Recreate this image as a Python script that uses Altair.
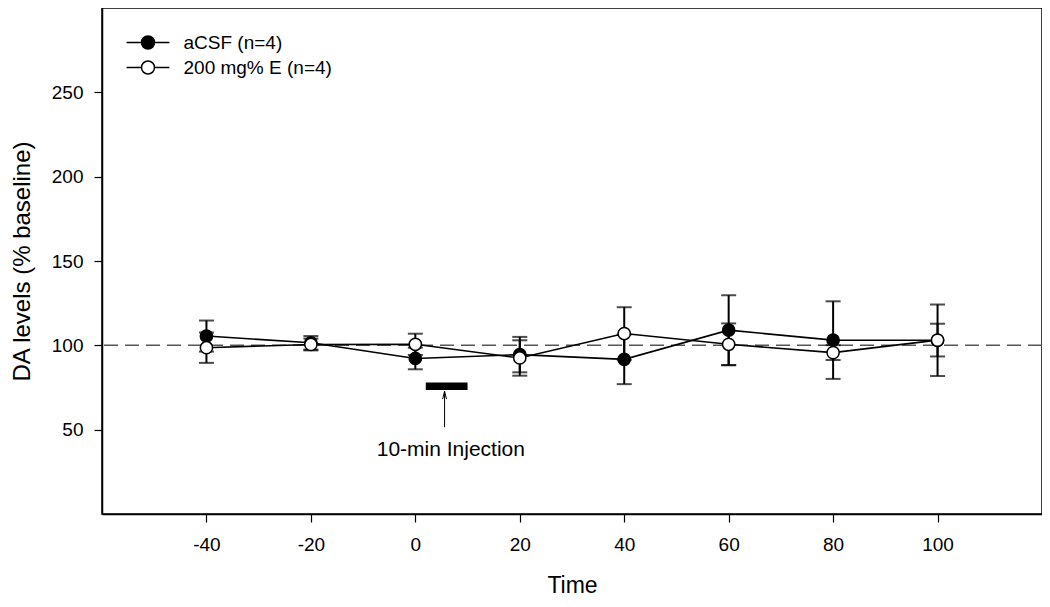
import altair as alt
import pandas as pd

# ---- data ----
time = [-40, -20, 0, 20, 40, 60, 80, 100]
series_names = ["aCSF (n=4)", "200 mg% E (n=4)"]
acsf_mean = [105.5, 101.5, 92.2, 94.5, 91.7, 109.0, 103.1, 103.0]
acsf_sem = [9.2, 4.0, 6.4, 10.5, 14.7, 20.7, 23.0, 21.2]
e_mean = [98.6, 100.5, 100.6, 92.5, 107.0, 100.6, 95.7, 103.1]
e_sem = [9.0, 3.5, 6.3, 10.5, 15.6, 12.4, 4.4, 9.7]

x_ticks = [-40, -20, 0, 20, 40, 60, 80, 100]
y_ticks = [50, 100, 150, 200, 250]
baseline = [100]

# injection annotation
inj_start = [2]
inj_end = [10]
inj_lo = [73.5]
inj_hi = [78]
arrow_x = [5.6]
arrow_tail = [51.5]
arrow_tip = [72.8]
label_x = [6.8]
label_y = [38.0]
label_text = ["10-min Injection"]

rows = []
for name, means, sems in [(series_names[0], acsf_mean, acsf_sem),
                          (series_names[1], e_mean, e_sem)]:
    for t, m, s in zip(time, means, sems):
        rows.append({"series": name, "time": t, "mean": m,
                     "lo": m - s, "hi": m + s})
df = pd.DataFrame(rows)

xscale = alt.Scale(domain=[-60, 120], nice=False, zero=False)
yscale = alt.Scale(domain=[0, 300], nice=False, zero=False)

X = alt.X("time:Q", scale=xscale,
          axis=alt.Axis(values=x_ticks, title="Time", grid=False,
                        labelExpr="'' + datum.value",
                        labelFontSize=19, titleFontSize=23,
                        labelPadding=13, titlePadding=20))
y_axis = alt.Axis(values=y_ticks, title="DA levels (% baseline)", grid=False,
                  labelFontSize=19, titleFontSize=24,
                  labelPadding=11, titlePadding=17)
Y = alt.Y("mean:Q", scale=yscale, axis=y_axis)

base = alt.Chart(df)

ref_line = alt.Chart(pd.DataFrame({"b": baseline})).mark_rule(
    color="#555555", strokeDash=[14, 7], strokeWidth=1.5
).encode(y=alt.Y("b:Q", scale=yscale, axis=y_axis))

err = base.mark_errorbar(
    ticks=alt.TickConfig(size=15, thickness=2, color="black"),
    rule=alt.LineConfig(strokeWidth=2, color="black"),
).encode(
    x=X,
    y=alt.Y("lo:Q", scale=yscale, axis=y_axis),
    y2="hi:Q",
    detail="series:N",
)

lines = base.mark_line(color="black", strokeWidth=1.6).encode(
    x=X, y=Y, detail="series:N"
)

legend_path = ("M-3.3,0H-1M1,0H3.3"
               "M-1,0A1,1,0,1,0,1,0A1,1,0,1,0,-1,0Z")

points = base.mark_point(
    shape="circle", filled=True, size=150, stroke="black", strokeWidth=1.5,
    opacity=1, fillOpacity=1
).encode(
    x=X, y=Y,
    fill=alt.Fill(
        "series:N",
        scale=alt.Scale(domain=series_names, range=["black", "white"]),
        sort=series_names,
        legend=alt.Legend(
            title=None, orient="none", legendX=36.5, legendY=25,
            symbolType=legend_path, symbolSize=169,
            symbolStrokeColor="black", symbolStrokeWidth=1.5,
            labelFontSize=19, labelFont="Liberation Sans", labelColor="black",
            labelOffset=26, rowPadding=5, padding=0, symbolOpacity=1,
        ),
    ),
)

inj_df = pd.DataFrame({"x1": inj_start, "x2": inj_end, "lo": inj_lo, "hi": inj_hi})
inj_bar = alt.Chart(inj_df).mark_rect(color="black").encode(
    x=alt.X("x1:Q", scale=xscale), x2="x2:Q",
    y=alt.Y("lo:Q", scale=yscale), y2="hi:Q",
)

arr_df = pd.DataFrame({"x": arrow_x, "tail": arrow_tail, "tip": arrow_tip})
arrow_shaft = alt.Chart(arr_df).mark_rule(color="black", strokeWidth=1).encode(
    x=alt.X("x:Q", scale=xscale),
    y=alt.Y("tail:Q", scale=yscale), y2="tip:Q",
)
arrow_head = alt.Chart(arr_df).mark_point(
    shape="M-0.5,1L0,-1L0.5,1", filled=False, stroke="black", strokeWidth=1,
    size=60, yOffset=4, opacity=1
).encode(
    x=alt.X("x:Q", scale=xscale),
    y=alt.Y("tip:Q", scale=yscale),
)

txt_df = pd.DataFrame({"x": label_x, "y": label_y, "t": label_text})
txt = alt.Chart(txt_df).mark_text(
    fontSize=21, font="Liberation Sans", color="black", align="center",
    baseline="middle"
).encode(
    x=alt.X("x:Q", scale=xscale),
    y=alt.Y("y:Q", scale=yscale),
    text="t:N",
)

chart = alt.layer(
    ref_line, err, lines, points, inj_bar, arrow_shaft, arrow_head, txt
).properties(
    width=940, height=506,
    autosize=alt.AutoSizeParams(type="none"),
    padding={"left": 94, "top": 0, "right": 0, "bottom": 85},
).configure_view(
    stroke="black", strokeWidth=1.5
).configure_axis(
    domainColor="black", domainWidth=1.5, tickColor="black", tickWidth=1.2,
    tickSize=8, labelFont="Liberation Sans", titleFont="Liberation Sans",
    labelColor="black", titleColor="black", titleFontWeight="normal",
)

chart.save("out.html", embed_options={"renderer": "svg", "actions": False})
